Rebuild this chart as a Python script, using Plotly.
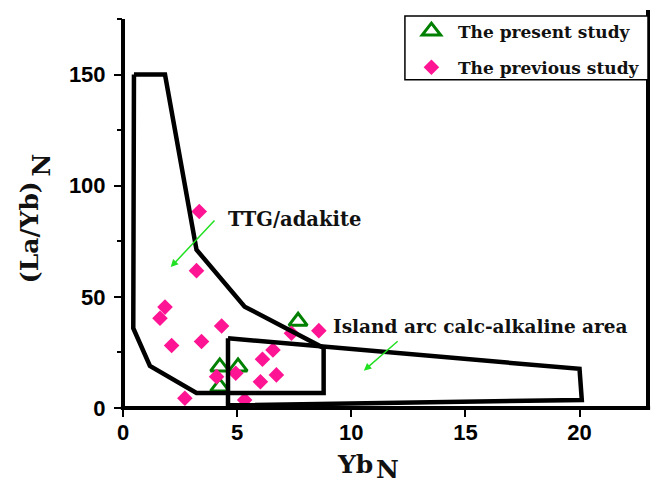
import plotly.graph_objects as go

# ---------------- data ----------------
present_x = [7.67, 4.24, 5.04, 4.24]
present_y = [39.0, 18.5, 18.5, 9.5]

previous_x = [1.84, 1.62, 4.32, 2.13, 3.44, 7.38, 8.58, 6.57, 6.11, 6.72, 6.02, 4.10, 4.94, 2.71, 5.33, 3.34, 3.22]
previous_y = [45.4, 40.4, 36.9, 28.1, 29.9, 33.6, 34.8, 26.1, 21.9, 14.9, 11.8, 14.1, 15.6, 4.4, 3.6, 88.4, 61.8]

ttg_x = [0.48, 1.84, 3.22, 5.33, 8.79, 8.79, 3.22, 1.18, 0.45, 0.48]
ttg_y = [150, 150, 71.2, 45.6, 27.0, 6.8, 6.8, 18.9, 35.9, 150]

arc_x = [4.6, 20.0, 20.1, 4.6, 4.6]
arc_y = [31.4, 17.6, 3.6, 1.2, 31.4]

x_ticks = [0, 5, 10, 15, 20]
y_ticks = [0, 50, 100, 150]

# ---------------- figure ----------------
fig = go.Figure()

fig.add_trace(go.Scatter(
    x=present_x, y=present_y, mode="markers", name="The present study",
    legendgroup="a",
    marker=dict(symbol="triangle-up-open", size=16, color="#008000",
                line=dict(width=3, color="#008000")),
    cliponaxis=True))

fig.add_trace(go.Scatter(
    x=previous_x, y=previous_y, mode="markers", name="The previous study",
    legendgroup="b",
    marker=dict(symbol="diamond", size=12, color="#FF1493", line=dict(width=0)),
    cliponaxis=True))

for px, py in [(ttg_x, ttg_y), (arc_x, arc_y)]:
    fig.add_trace(go.Scatter(x=px, y=py, mode="lines", showlegend=False,
                             hoverinfo="skip",
                             line=dict(color="black", width=4.5)))

tickfont = dict(family="Liberation Sans", size=22, color="black", weight="bold")
serif = "DejaVu Serif"

fig.update_layout(
    width=657, height=487,
    margin=dict(l=123, r=9, t=19, b=79),
    plot_bgcolor="white", paper_bgcolor="white",
    showlegend=True,
    legend=dict(x=0.537, y=1.014, xanchor="left", yanchor="top",
                bgcolor="rgba(0,0,0,0)", borderwidth=0,
                tracegroupgap=11, itemwidth=43,
                font=dict(family=serif, size=17, color="#111", weight="bold")),
    xaxis=dict(range=[0, 23], tickvals=x_ticks, ticktext=[str(v) for v in x_ticks],
               showgrid=False, zeroline=False, showline=False,
               ticks="outside", ticklen=8, tickwidth=2, tickcolor="black",
               tickfont=tickfont, ticklabelstandoff=-3),
    yaxis=dict(range=[0, 175], tickvals=y_ticks, ticktext=[str(v) for v in y_ticks],
               showgrid=False, zeroline=False, showline=False,
               ticks="outside", ticklen=8, tickwidth=2, tickcolor="black",
               tickfont=tickfont, ticklabelstandoff=4,
               minor=dict(dtick=25, ticks="outside", ticklen=5, tickwidth=2,
                          tickcolor="black", showgrid=False)),
)

# frame lines (left, bottom, right) and legend box
line = dict(color="black", width=4)
fig.add_shape(type="line", xref="paper", yref="paper", x0=0, x1=0, y0=-0.005, y1=1.0, line=line)
fig.add_shape(type="line", xref="paper", yref="paper", x0=-0.004, x1=1.004, y0=0, y1=0, line=line)
fig.add_shape(type="line", xref="paper", yref="paper", x0=1, x1=1, y0=-0.005, y1=1.023, line=line)
fig.add_shape(type="rect", xref="paper", yref="paper", x0=0.537, x1=1.0, y0=0.844, y1=1.008,
              line=dict(color="black", width=1.5), fillcolor="white", layer="above")

# region labels and arrows
fig.add_annotation(x=4.5, y=85.0, text="TTG/adakite", showarrow=False,
                   xanchor="left", yanchor="middle",
                   font=dict(family=serif, size=19.5, color="#111", weight="bold"))
fig.add_annotation(x=9.1, y=36.6, text="Island arc calc-alkaline area", showarrow=False,
                   xanchor="left", yanchor="middle",
                   font=dict(family=serif, size=18.5, color="#111", weight="bold"))
arrow_col = "#22E022"
fig.add_annotation(x=2.09, y=63.4, ax=4.07, ay=85.0, axref="x", ayref="y",
                   xref="x", yref="y", text="", showarrow=True,
                   arrowhead=2, arrowsize=1, arrowwidth=1.5, arrowcolor=arrow_col)
fig.add_annotation(x=10.55, y=16.8, ax=12.1, ay=30.6, axref="x", ayref="y",
                   xref="x", yref="y", text="", showarrow=True,
                   arrowhead=2, arrowsize=1, arrowwidth=1.5, arrowcolor=arrow_col)

# axis titles
title_font = dict(family=serif, size=25, color="#111", weight="bold")
fig.add_annotation(x=0.442, y=-0.1465, xref="paper", yref="paper", text="Yb",
                   showarrow=False, xanchor="center", yanchor="middle", font=title_font)
fig.add_annotation(x=0.504, y=-0.2, xref="paper", yref="paper", text="N",
                   showarrow=False, xanchor="center", yanchor="bottom", font=title_font)
fig.add_annotation(x=-0.179, y=0.452, xref="paper", yref="paper", text="(La/Yb)",
                   showarrow=False, xanchor="center", yanchor="middle",
                   textangle=-90, font=title_font)
fig.add_annotation(x=-0.155, y=0.625, xref="paper", yref="paper", text="N",
                   showarrow=False, xanchor="center", yanchor="middle",
                   textangle=-90, font=title_font)

fig.write_html("out.html")
